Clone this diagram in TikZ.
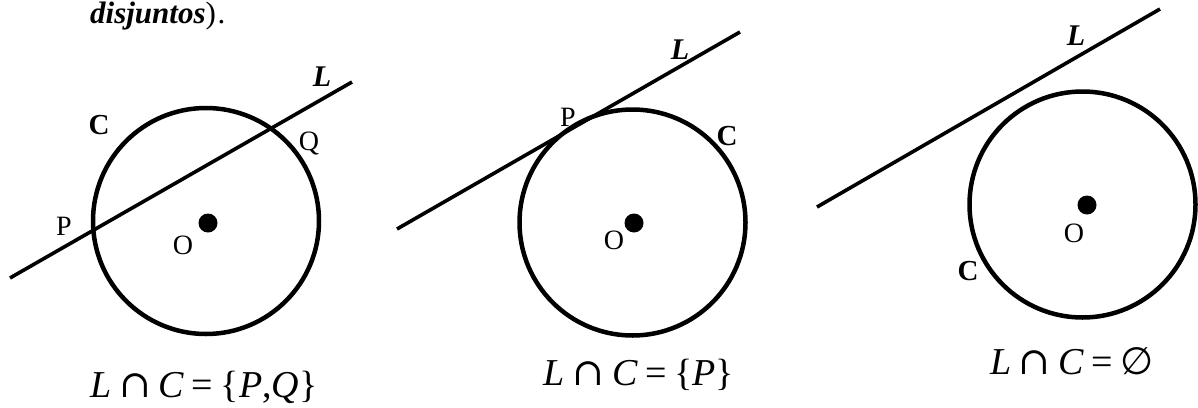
\documentclass[tikz,border=0pt]{standalone}
\usepackage{fontspec}
\setmainfont{Liberation Serif}
\newfontfamily\symf{DejaVu Serif}
\newfontfamily\vacf{DejaVu Sans}
\usetikzlibrary{positioning}

\newcommand{\sep}{\hspace{0.2em}}
\newcommand{\inter}{\sep{\symf ∩}\sep}
\newcommand{\igual}{\sep=\sep}

\tikzset{
  circ/.style={line width=4.5pt},
  recta/.style={line width=3.6pt},
  lbl/.style={font=\fontsize{28}{32}\selectfont, inner sep=0pt},
  blbl/.style={font=\fontsize{29}{33}\selectfont\bfseries, inner sep=0pt},
  llbl/.style={font=\fontsize{30}{34}\selectfont\bfseries\itshape, inner sep=0pt},
  rel/.style={font=\fontsize{38}{42}\selectfont, inner sep=0pt},
}

\begin{document}
\begin{tikzpicture}[x=1pt,y=-1pt]
  \useasboundingbox (0,0) rectangle (1198,407);
  \node[font=\fontsize{31}{35}\selectfont, inner sep=0pt, anchor=base west] (cab) at (90,23) {\textbf{\textit{disjuntos}})\hspace{0.05em}.};

  % secante
  \coordinate (O1) at (206,221);
  \coordinate (La1) at (10,278);
  \coordinate (Lb1) at (352,82);
  \draw[circ] (O1) circle[radius=113pt];
  \draw[recta] (La1) -- (Lb1);
  \fill (208,223) circle[radius=9.5pt];
  \node[llbl] (L1) at (322,77) {L};
  \node[blbl] (C1) at (99,125) {C};
  \node[lbl] (Q1) at (309,143) {Q};
  \node[lbl] (P1) at (64,226) {P};
  \node[lbl] (o1) at (183,245) {O};
  \node[rel] (r1) at (204,387) {\textit{L}\inter\textit{C}\igual\{\textit{P},\textit{Q}\}};

  % tangente
  \coordinate (O2) at (632.5,222.5);
  \coordinate (La2) at (397,229);
  \coordinate (Lb2) at (740,32);
  \draw[circ] (O2) circle[radius=113pt];
  \draw[recta] (La2) -- (Lb2);
  \fill (634,223) circle[radius=9.5pt];
  \node[llbl] (L2) at (680,50) {L};
  \node[lbl] (P2) at (568,117) {P};
  \node[blbl] (C2) at (727,136) {C};
  \node[lbl] (o2) at (614,240) {O};
  \node[rel] (r2) at (639,375) {\textit{L}\inter\textit{C}\igual\{\textit{P}\}};

  % exterior
  \coordinate (O3) at (1082.5,204.5);
  \coordinate (La3) at (817,207);
  \coordinate (Lb3) at (1160,9);
  \draw[circ] (O3) circle[radius=113pt];
  \draw[recta] (La3) -- (Lb3);
  \fill (1087,205) circle[radius=9.5pt];
  \node[llbl] (L3) at (1076,36) {L};
  \node[lbl] (o3) at (1074,233) {O};
  \node[blbl] (C3) at (968,271) {C};
  \node[rel] (r3) at (1072,361) {\textit{L}\inter\textit{C}\igual{\vacf ∅}};
\end{tikzpicture}
\end{document}
